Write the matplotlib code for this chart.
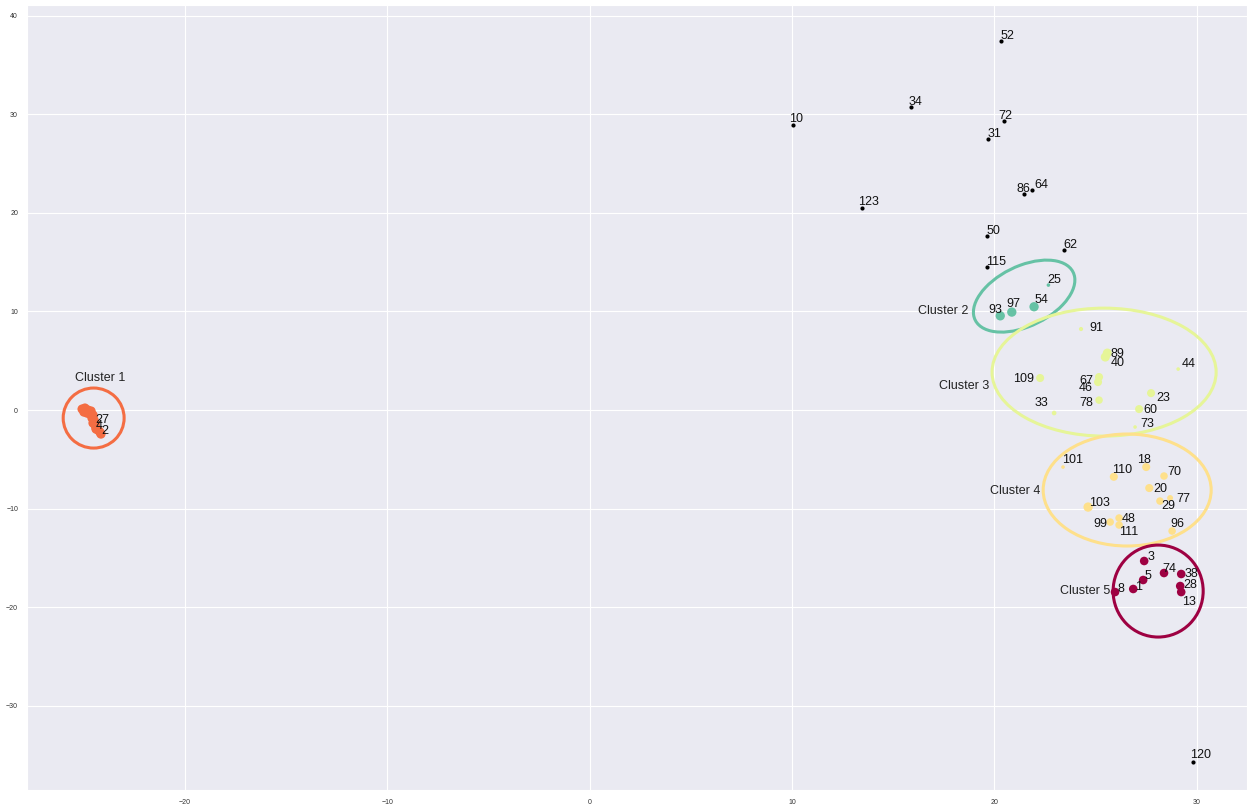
import matplotlib
matplotlib.use("Agg")
import matplotlib.pyplot as plt
from matplotlib.patches import Ellipse
import seaborn as sns

sns.set_style("darkgrid", {"grid.linewidth": 0.8})
plt.rcParams["font.family"] = ["Liberation Sans", "DejaVu Sans"]

# HDBSCAN result on the 2-d embedding; -1 marks noise
noise_ids = ["52", "34", "10", "72", "31", "86", "64", "123", "50", "62", "115", "120"]
noise_x = [20.33, 15.90, 10.05, 20.48, 19.69, 21.47, 21.86, 13.46, 19.64, 23.44, 19.65, 29.82]
noise_y = [37.45, 30.76, 28.91, 29.31, 27.48, 21.89, 22.31, 20.49, 17.65, 16.23, 14.47, -35.70]

# cluster 1 is a tight streak, only a few members carry ids
c1_ids = ["", "", "", "", "", "", "", "", "", "", "", "", "", "", "", "27", "4", "2"]
c1_x = [-25.07, -24.93, -24.78, -24.63, -24.98, -24.83, -24.68, -24.53, -24.58, -24.48,
        -24.53, -24.43, -24.38, -24.28, -24.19, -24.43, -24.38, -24.14]
c1_y = [0.10, 0.20, 0.00, -0.10, -0.20, -0.30, -0.41, -0.51, -0.81, -1.01,
        -1.32, -1.52, -1.83, -2.03, -2.23, -1.32, -1.93, -2.43]
c1_prob = [1.0] * len(c1_ids)

c2_ids = ["93", "97", "54", "25"]
c2_x = [20.29, 20.86, 21.96, 22.67]
c2_y = [9.56, 9.94, 10.48, 12.68]
c2_prob = [1.0, 1.0, 1.0, 0.15]

c3_ids = ["91", "89", "40", "44", "109", "67", "46", "78", "33", "23", "60", "73"]
c3_x = [24.28, 25.58, 25.48, 29.08, 22.26, 25.17, 25.12, 25.17, 22.95, 27.74, 27.15, 26.95]
c3_y = [8.22, 5.78, 5.38, 4.16, 3.25, 3.35, 2.84, 1.01, -0.30, 1.72, 0.10, -1.72]
c3_prob = [0.2, 0.95, 0.95, 0.15, 0.75, 0.75, 0.75, 0.65, 0.25, 0.75, 0.75, 0.15]

c4_ids = ["101", "18", "110", "70", "20", "77", "29", "103", "99", "48", "111", "96"]
c4_x = [23.39, 27.50, 25.90, 28.38, 27.65, 28.68, 28.18, 24.63, 25.72, 26.16, 26.16, 28.78]
c4_y = [-5.78, -5.78, -6.77, -6.69, -7.91, -8.92, -9.23, -9.84, -11.36, -10.95, -11.66, -12.27]
c4_prob = [0.15, 0.75, 0.75, 0.65, 0.75, 0.4, 0.65, 1.0, 0.65, 0.65, 0.65, 0.65]

c5_ids = ["3", "74", "38", "28", "13", "5", "1", "8"]
c5_x = [27.40, 28.38, 29.23, 29.18, 29.23, 27.35, 26.86, 25.96]
c5_y = [-15.31, -16.53, -16.63, -17.85, -18.46, -17.24, -18.15, -18.46]
c5_prob = [0.85] * len(c5_ids)

cluster_colors = ["#f46d43", "#66c2a5", "#e6f598", "#fee08b", "#9e0142"]

# enclosing ellipses: centre x, centre y, width, height, angle (data units)
hull_x = [-24.50, 21.47, 25.42, 26.56, 28.09]
hull_y = [-0.81, 11.56, 3.85, -8.11, -18.36]
hull_w = [3.01, 7.80, 11.07, 8.30, 4.45]
hull_h = [6.09, 4.20, 12.98, 11.36, 9.33]
hull_angle = [0, 65.4, 0, 0, 0]

cluster_names = ["Cluster 1", "Cluster 2", "Cluster 3", "Cluster 4", "Cluster 5"]

# label nudges in pixels, everything else sits just above-right of its dot
label_offsets = {
    "93": (-12, 3), "97": (-5, 5), "54": (0, 4), "91": (8, -2), "89": (3, -4),
    "40": (5, -9), "44": (4, 2), "109": (-27, -4), "67": (-20, -7), "46": (-19, -9),
    "78": (-20, -6), "33": (-20, 7), "23": (5, -8), "60": (4, -4), "73": (5, 0),
    "101": (-1, 4), "18": (-9, 4), "110": (-2, 4), "70": (3, 1), "20": (4, -4),
    "77": (6, -4), "29": (1, -8), "103": (1, 1), "99": (-17, -5), "48": (3, -4),
    "111": (0, -10), "96": (-2, 4), "3": (3, 1), "74": (-2, 1), "38": (3, -3),
    "28": (3, -2), "13": (1, -13), "5": (1, 1), "1": (2, -1), "8": (2, 0),
    "27": (0, 0), "4": (0, 0), "2": (0, 0), "86": (-8, 2), "64": (2, 2),
    "10": (-4, 3), "72": (-6, 2), "120": (-3, 4), "123": (-4, 3), "34": (-3, 2),
}

fig = plt.figure(figsize=(12.47, 8.10), dpi=100)
ax = fig.add_axes([0.0217, 0.0247, 0.9783, 0.969])


def label_points(ids, xs, ys):
    for pid, x, y in zip(ids, xs, ys):
        if not pid:
            continue
        dx, dy = label_offsets.get(pid, (-1, 2))
        ax.annotate(pid, (x, y), xytext=(dx, dy), textcoords="offset pixels",
                    fontsize=9, color="#111111")


ax.scatter(noise_x, noise_y, s=9, color="black", linewidths=0, zorder=3)
label_points(noise_ids, noise_x, noise_y)

clusters = [
    (c1_ids, c1_x, c1_y, c1_prob),
    (c2_ids, c2_x, c2_y, c2_prob),
    (c3_ids, c3_x, c3_y, c3_prob),
    (c4_ids, c4_x, c4_y, c4_prob),
    (c5_ids, c5_x, c5_y, c5_prob),
]
for k, (ids, xs, ys, prob) in enumerate(clusters):
    sizes = [45 * p for p in prob]
    ax.scatter(xs, ys, s=sizes, color=cluster_colors[k], linewidths=0, zorder=3)
    label_points(ids, xs, ys)
    ax.add_patch(Ellipse((hull_x[k], hull_y[k]), hull_w[k], hull_h[k], angle=hull_angle[k],
                         fill=False, edgecolor=cluster_colors[k], linewidth=2.2, zorder=2))

# cluster captions: first one above its circle, the rest to the left
ax.text(hull_x[0] + 0.3, hull_y[0] + hull_h[0] / 2 + 1.0, cluster_names[0],
        ha="center", va="center", fontsize=9, color="#222222")
caption_y = [None, 10.04, 2.43, -8.20, -18.36]
for k in range(1, 5):
    left_edge = hull_x[k] - hull_w[k] / 2 if hull_angle[k] == 0 else hull_x[k] - 2.6
    ax.text(left_edge - 0.15, caption_y[k], cluster_names[k],
            ha="right", va="center", fontsize=9, color="#222222")

ax.set_xlim(-27.79, 32.48)
ax.set_ylim(-38.54, 41.08)
ax.set_xticks([-20, -10, 0, 10, 20, 30])
ax.set_yticks([-30, -20, -10, 0, 10, 20, 30, 40])
ax.tick_params(labelsize=5, pad=3, colors="#333333")

fig.savefig("out.png", dpi=100)
